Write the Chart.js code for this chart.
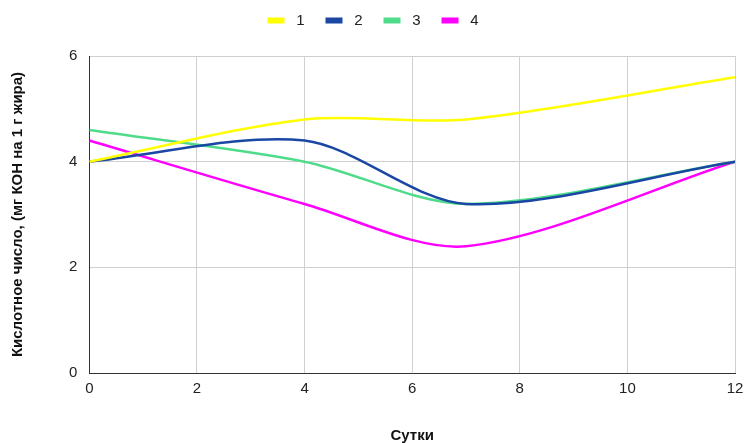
<!DOCTYPE html>
<html><head><meta charset="utf-8">
<script src="https://cdn.jsdelivr.net/npm/chart.js@4/dist/chart.umd.min.js"></script>
<style>html,body{margin:0;padding:0;background:#fff}#wrap{width:747px;height:443px}</style>
</head><body><div id="wrap"><canvas id="c" width="747" height="443"></canvas></div>
<script>
const days = [0, 4, 7, 12];
const seriesNames = ['1', '2', '3', '4'];
const s1 = [4.0, 4.8, 4.8, 5.6];
const s2 = [4.0, 4.4, 3.2, 4.0];
const s3 = [4.6, 4.0, 3.2, 4.0];
const s4 = [4.4, 3.2, 2.4, 4.0];
const colors = ['#ffff00', '#1947a3', '#4fdc8a', '#ff00ff'];
const xTicks = [0, 2, 4, 6, 8, 10, 12];
const yTicks = [0, 2, 4, 6];

const all = [s1, s2, s3, s4];
const datasets = all.map((s, i) => ({
  label: seriesNames[i],
  data: days.map((d, j) => ({x: d, y: s[j]})),
  borderColor: colors[i],
  backgroundColor: colors[i],
  borderWidth: 2.5,
  pointRadius: 0,
  tension: 0.3,
  fill: false
}));

const legendSpacer = {
  id: 'legendSpacer',
  beforeInit(chart) {
    const orig = chart.legend.fit;
    chart.legend.fit = function () { orig.bind(chart.legend)(); this.height += 18; };
  },
  afterLayout(chart) {
    chart.legend.left -= 5;
    chart.legend.right -= 5;
  }
};

new Chart(document.getElementById('c'), {
  type: 'line',
  data: {datasets},
  options: {
    responsive: false,
    animation: false,
    layout: {padding: {left: 9, right: 0, top: -8, bottom: -2}},
    plugins: {
      legend: {
        position: 'top',
        labels: {
          boxWidth: 17, boxHeight: 6, color: '#222',
          font: {family: 'Liberation Sans', size: 15}, padding: 21,
          generateLabels: chart => Chart.defaults.plugins.legend.labels.generateLabels(chart).map(l => ({...l, text: ' ' + l.text, lineWidth: 0}))
        }
      },
      tooltip: {enabled: false}
    },
    scales: {
      x: {
        type: 'linear', min: 0, max: 12,
        afterBuildTicks: ax => { ax.ticks = xTicks.map(v => ({value: v})); },
        afterFit: ax => { ax.paddingRight = 12; },
        ticks: {color: '#222', font: {family: 'Liberation Sans', size: 15}, padding: 7},
        grid: {color: '#d0d0d0', drawTicks: false},
        border: {color: '#333', width: 1},
        title: {display: true, text: 'Сутки', color: '#111', font: {family: 'Liberation Sans', size: 15, weight: 'bold'}, padding: {top: 22, bottom: 0}}
      },
      y: {
        min: 0, max: 6,
        afterBuildTicks: ax => { ax.ticks = yTicks.map(v => ({value: v})); },
        ticks: {color: '#222', font: {family: 'Liberation Sans', size: 15}, padding: 12},
        grid: {color: '#d0d0d0', drawTicks: false},
        border: {color: '#333', width: 1},
        title: {display: true, text: 'Кислотное число, (мг КОН на 1 г жира)', color: '#111', font: {family: 'Liberation Sans', size: 15, weight: 'bold'}, padding: {top: 0, bottom: 30}}
      }
    }
  },
  plugins: [legendSpacer]
});
</script></body></html>
